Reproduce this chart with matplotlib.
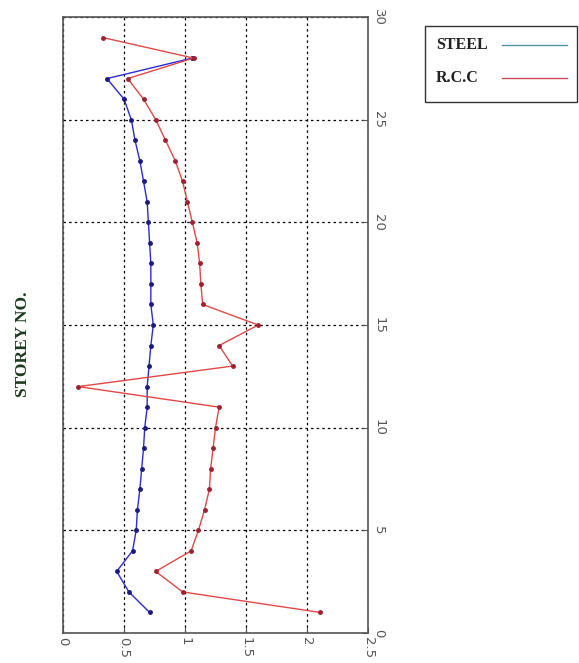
import matplotlib
matplotlib.use("Agg")
import matplotlib.pyplot as plt
from matplotlib.lines import Line2D
from matplotlib.patches import Rectangle

steel_storey = list(range(1, 29))
steel_disp = [0.71, 0.54, 0.44, 0.57, 0.60, 0.61, 0.63, 0.645, 0.66, 0.67,
              0.69, 0.69, 0.705, 0.72, 0.74, 0.72, 0.72, 0.72, 0.71, 0.70,
              0.69, 0.66, 0.63, 0.59, 0.56, 0.50, 0.36, 1.06]
rcc_storey = list(range(1, 30))
rcc_disp = [2.11, 0.98, 0.76, 1.05, 1.11, 1.16, 1.20, 1.21, 1.23, 1.25,
            1.28, 0.125, 1.39, 1.28, 1.60, 1.145, 1.13, 1.12, 1.10, 1.06,
            1.02, 0.98, 0.92, 0.84, 0.76, 0.66, 0.53, 1.07, 0.325]
x_ticks = [0, 0.5, 1, 1.5, 2, 2.5]
x_tick_labels = ["0", "0.5", "1", "1.5", "2", "2.5"]
y_ticks = [0, 5, 10, 15, 20, 25, 30]
y_tick_labels = ["0", "5", "10", "15", "20", "25", "30"]
legend_labels = ["STEEL", "R.C.C"]

W, H = 579, 663
fig = plt.figure(figsize=(W / 100, H / 100), dpi=100)
ax = fig.add_axes([63 / W, 1 - 633 / H, 305 / W, 616 / H])

ax.plot(steel_disp, steel_storey, color="#2b2bd6", lw=1.0, marker="o", ms=2.5,
        mfc="#1a1a80", mec="#1a1a80")
ax.plot(rcc_disp, rcc_storey, color="#e04848", lw=1.0, marker="o", ms=2.5,
        mfc="#a02030", mec="#a02030")

ax.set_xlim(0, 2.5)
ax.set_ylim(0, 30)
ax.set_xticks(x_ticks)
ax.set_xticklabels(x_tick_labels, rotation=-90, color="#555555", fontsize=9.5)
ax.set_yticks(y_ticks)
ax.set_yticklabels(y_tick_labels, rotation=-90, color="#555555", fontsize=9.5,
                   va="center")
ax.yaxis.tick_right()
ax.tick_params(axis="both", direction="in", length=4, color="#555555", pad=3)
ax.grid(True, color="black", linestyle=(0, (2, 2.5)), linewidth=0.9)
for s in ax.spines.values():
    s.set_color("#555555")
    s.set_linewidth(1.2)

fig.text(23 / W, 1 - 344 / H, "STOREY NO.", rotation=90, ha="center", va="center",
         family="Liberation Serif", fontweight="bold", fontsize=12.5,
         color="#1e3a1e")

# legend box (drawn in figure pixel coordinates)
lx0, lx1, ly0, ly1 = 425, 577, 26, 102
fig.patches.append(Rectangle((lx0 / W, 1 - ly1 / H), (lx1 - lx0) / W,
                             (ly1 - ly0) / H, transform=fig.transFigure,
                             fill=True, facecolor="white", edgecolor="#333333",
                             lw=1.0))
leg_colors = ["#5a8fa8", "#c84858"]
leg_y = [45, 78]
for lab, c, yy in zip(legend_labels, leg_colors, leg_y):
    fig.text(436 / W, 1 - yy / H, lab, ha="left", va="center",
             family="Liberation Serif", fontweight="bold", fontsize=11.5,
             color="#222222")
    fig.lines.append(Line2D([502 / W, 567 / W], [1 - yy / H, 1 - yy / H],
                            transform=fig.transFigure, color=c, lw=1.0))

fig.savefig("out.png", dpi=100)
